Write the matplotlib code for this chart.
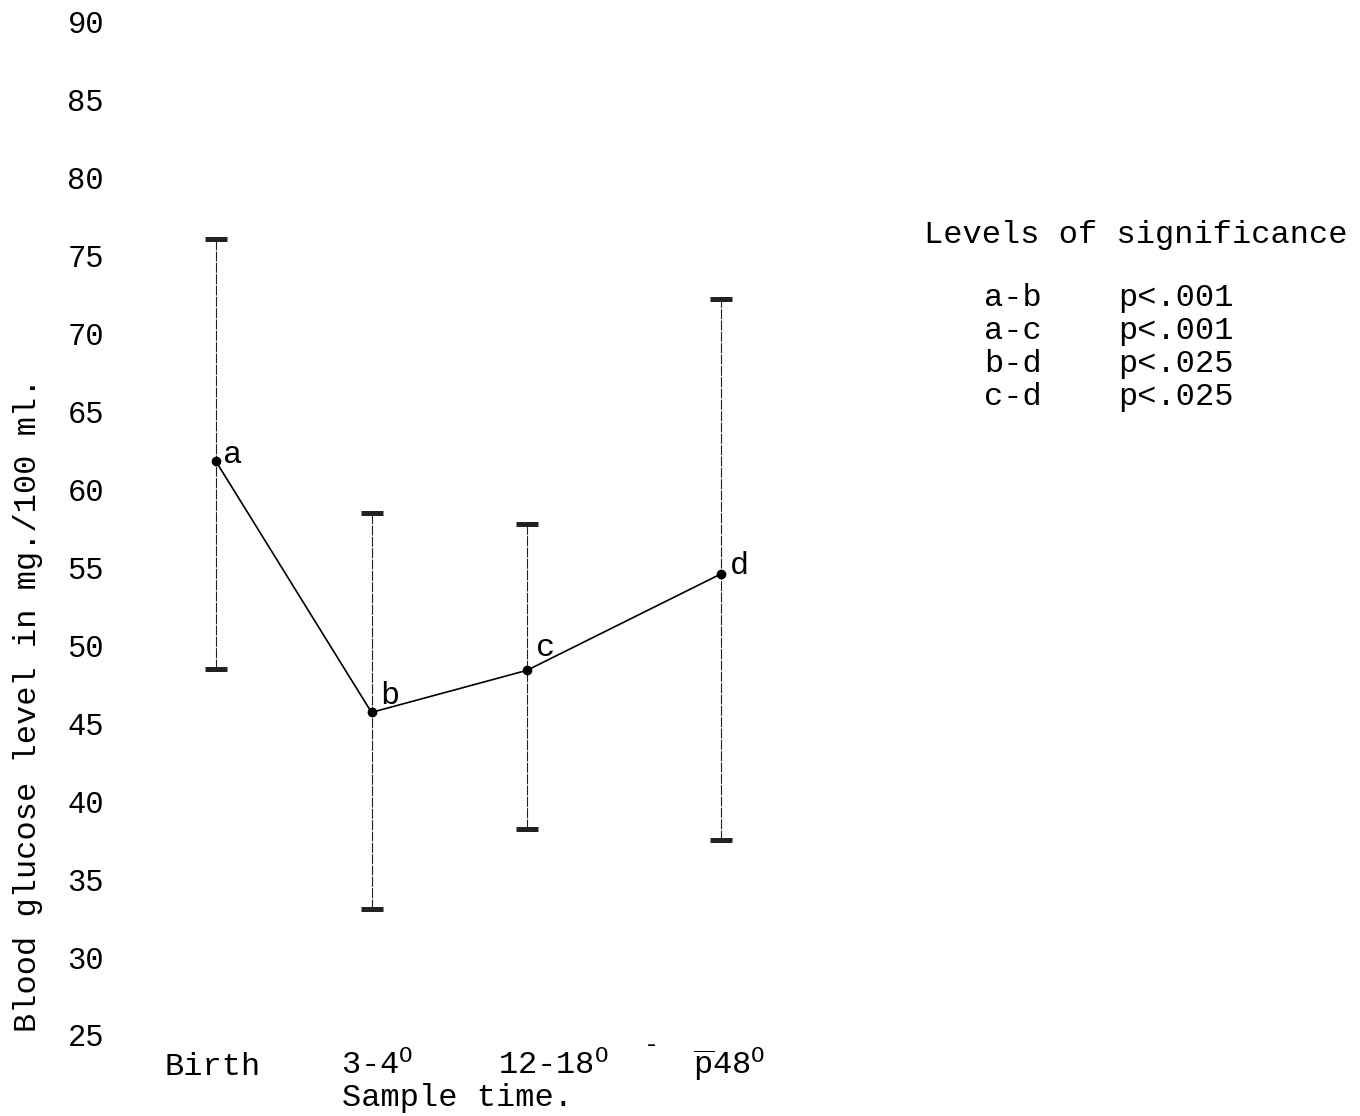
import matplotlib
matplotlib.use("Agg")
import matplotlib.pyplot as plt
from matplotlib.transforms import ScaledTranslation

plt.rcParams['font.family'] = ['Liberation Mono', 'DejaVu Sans Mono']
plt.rcParams['mathtext.fontset'] = 'custom'
plt.rcParams['mathtext.rm'] = 'Liberation Mono'
plt.rcParams['mathtext.it'] = 'Liberation Mono'

# blood glucose, mg/100 ml
samples = ['Birth', '3-4$^{\\mathrm{O}}$', '12-18$^{\\mathrm{O}}$',
           '$\\overline{\\mathrm{p}}$48$^{\\mathrm{O}}$']
sample_pos = [0, 1, 2, 3.25]
means = [61.8, 45.7, 48.4, 54.6]
upper = [76.1, 58.5, 57.8, 72.2]
lower = [48.5, 33.1, 38.2, 37.5]
point_tags = ['a', 'b', 'c', 'd']
tag_offsets = [(17, 6), (18, 16), (19, 22), (18, 8)]
label_shift = [-3, 6, 26, 8]

yticks = [90, 85, 80, 75, 70, 65, 60, 55, 50, 45, 40, 35, 30, 25]

sig_pairs = ['a-b', 'a-c', 'b-d', 'c-d']
sig_p = ['p<.001', 'p<.001', 'p<.025', 'p<.025']

W, H = 1360, 1116
fig = plt.figure(figsize=(W / 100, H / 100), dpi=100)
ax_l, ax_r, ax_t, ax_b = 140, 860, 22, 1035
ax = fig.add_axes([ax_l / W, 1 - ax_b / H, (ax_r - ax_l) / W, (ax_b - ax_t) / H])

px_unit = 155.5
ax.set_xlim((ax_l - 216) / px_unit, (ax_r - 216) / px_unit)
ax.set_ylim(25, 90)

fs = 23

err_lo = [m - l for m, l in zip(means, lower)]
err_hi = [u - m for m, u in zip(means, upper)]
eb = ax.errorbar(sample_pos, means, yerr=[err_lo, err_hi], fmt='none',
                 ecolor='#222222', elinewidth=0.8, capsize=8, capthick=3.6)
eb[2][0].set_linestyle((0, (9, 1.2)))

ax.plot(sample_pos, means, color='black', lw=1.2, marker='o', ms=6,
        markerfacecolor='black', markeredgecolor='black')

for x, y, t, off in zip(sample_pos, means, point_tags, tag_offsets):
    ax.annotate(t, (x, y), xytext=off, textcoords='offset pixels',
                fontsize=fs, ha='center', va='center')

for s in ax.spines.values():
    s.set_visible(False)

ax.set_yticks(yticks)
ax.set_yticklabels([str(v) for v in yticks])
ax.tick_params(axis='y', length=0, pad=26, labelsize=22)

ax.set_xticks(sample_pos)
ax.set_xticklabels(samples)
ax.tick_params(axis='x', length=0, pad=28.5, labelsize=fs)
for lab, dx in zip(ax.get_xticklabels(), label_shift):
    lab.set_va('baseline')
    lab.set_transform(lab.get_transform() +
                      ScaledTranslation(dx / 100, 0, fig.dpi_scale_trans))

fig.text(28 / W, 1 - 705 / H, 'Blood glucose level in mg./100 ml.',
         rotation=90, ha='center', va='center', fontsize=fs)
fig.text(342 / W, 1 - 1098 / H, 'Sample time.', ha='left', va='center',
         fontsize=fs)
fig.text(651 / W, 1 - 1045 / H, '-', ha='center', va='center', fontsize=18)

# significance table
fig.text(924 / W, 1 - 235 / H, 'Levels of significance', ha='left',
         va='center', fontsize=fs)
for i, (pair, p) in enumerate(zip(sig_pairs, sig_p)):
    yy = 1 - (298 + 33 * i) / H
    fig.text(984 / W, yy, pair, ha='left', va='center', fontsize=fs)
    fig.text(1118 / W, yy, p, ha='left', va='center', fontsize=fs)

fig.savefig('out.png', dpi=100, facecolor='white')
